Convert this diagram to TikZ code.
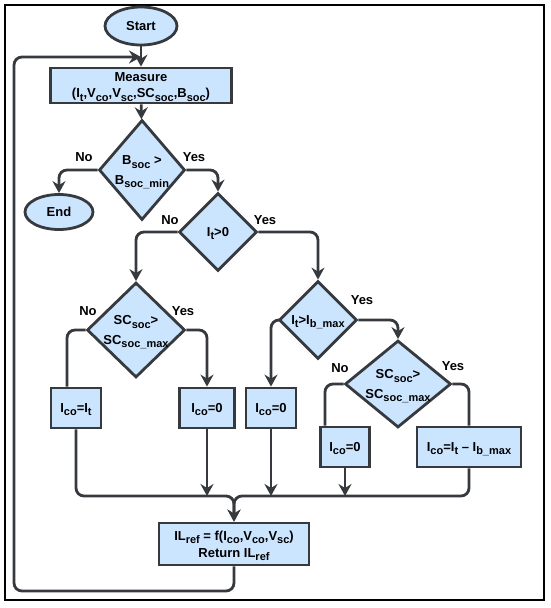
\documentclass[tikz,border=0pt]{standalone}
\usepackage{fontspec}
\setmainfont{Liberation Sans}
\usetikzlibrary{shapes.geometric,arrows.meta}
\definecolor{fc}{HTML}{CCE5FF}
\definecolor{lc}{HTML}{36393D}
\newcommand\sbx[1]{\smash{\raisebox{-3.5pt}{\fontsize{11}{12}\selectfont #1}}}
\newcommand\zw[1]{\makebox[0pt]{#1}}
\begin{document}
\begin{tikzpicture}[x=1pt,y=-1pt,
  font=\fontsize{13}{17}\selectfont\bfseries,
  box/.style={draw=lc, fill=fc, line width=2.8pt, rectangle, inner sep=0pt, align=center},
  dec/.style={draw=lc, fill=fc, line width=2.8pt, diamond, inner sep=0pt, align=center,
    font=\fontsize{13}{19.5}\selectfont\bfseries},
  oval/.style={draw=lc, fill=fc, line width=2.8pt, ellipse, inner sep=0pt},
  conn/.style={draw=lc, line width=2.8pt, rounded corners=8pt},
  arr/.style={conn, -{Stealth[length=12pt,width=13pt,inset=4pt]}},
  lbl/.style={inner sep=0pt}
]
\useasboundingbox (0,0) rectangle (550,608);
\fill[white] (0,0) rectangle (550,608);
\draw[line width=1.5pt, black] (5,5) rectangle (544,600);

\node[oval, minimum width=72pt, minimum height=38pt] (start) at (141,26) {Start};
\node[box, minimum width=181pt, minimum height=35pt, font=\fontsize{13}{16}\selectfont\bfseries] (measure) at (141,85.5) {\rule{0pt}{11pt}Measure\\(I\sbx{t},V\sbx{co},V\sbx{sc},SC\sbx{soc},B\sbx{soc})};
\node[dec, minimum width=86pt, minimum height=100pt] (bsoc) at (142,170) {\zw{B\sbx{soc} >}\\\zw{B\sbx{soc\_min}}};
\node[oval, minimum width=68pt, minimum height=35pt] (end) at (59,212) {End};
\node[dec, minimum width=78pt, minimum height=78pt] (itg) at (218,232) {\zw{I\sbx{t}>0}};
\node[dec, minimum width=98pt, minimum height=95pt] (sc1) at (136,330) {\zw{SC\sbx{soc}>}\\\zw{SC\sbx{soc\_max}}};
\node[dec, minimum width=78pt, minimum height=78pt] (ib) at (318,320) {\zw{I\sbx{t}>I\sbx{b\_max}}};
\node[dec, minimum width=106pt, minimum height=87pt] (sc2) at (398,384) {\zw{SC\sbx{soc}>}\\\zw{SC\sbx{soc\_max}}};
\node[box, minimum width=50pt, minimum height=40pt] (b1) at (76,408) {I\sbx{co}=I\sbx{t}};
\node[box, minimum width=55pt, minimum height=40pt] (b2) at (207,408) {I\sbx{co}=0};
\node[box, minimum width=50pt, minimum height=40pt] (b3) at (271,408) {I\sbx{co}=0};
\node[box, minimum width=49pt, minimum height=40pt] (b4) at (345,447) {I\sbx{co}=0};
\node[box, minimum width=104pt, minimum height=40pt] (b5) at (469,447) {I\sbx{co}=I\sbx{t} -- I\sbx{b\_max}};
\node[box, minimum width=150pt, minimum height=42pt] (fin) at (234,544) {IL\sbx{ref} = f(I\sbx{co},V\sbx{co},V\sbx{sc})\\Return IL\sbx{ref}};

\node[lbl] (l1) at (84,157) {No};
\node[lbl] (l2) at (194,157) {Yes};
\node[lbl] (l3) at (170,220) {No};
\node[lbl] (l4) at (265,220) {Yes};
\node[lbl] (l5) at (88,311) {No};
\node[lbl] (l6) at (183,311) {Yes};
\node[lbl] (l7) at (362,300) {Yes};
\node[lbl] (l8) at (340,368) {No};
\node[lbl] (l9) at (453,366) {Yes};

\coordinate (lp) at (141,57);
\coordinate (my) at (0,496);
\coordinate (mj) at (fin.north |- my);
\coordinate (lc1) at (14,591);
\coordinate (lc2) at (14,57);

\draw[arr] (start) -- (measure);
\draw[arr] (measure) -- (bsoc);
\draw[arr] (bsoc.west) -| (end.north);
\draw[arr] (bsoc.east) -| (itg.north);
\draw[arr] (itg.west) -| (sc1.north);
\draw[arr] (itg.east) -| (ib.north);
\draw[conn] (sc1.west) -| ([xshift=-9pt]b1.north);
\draw[arr] (sc1.east) -| (b2.north);
\draw[arr] (ib.west) -| (b3.north);
\draw[arr] (ib.east) -| (sc2.north);
\draw[conn] (sc2.west) -| ([xshift=-20pt]b4.north);
\draw[conn] (sc2.east) -| (b5.north);
\draw[arr] (b1.south) |- (mj) -- (fin.north);
\draw[arr] (b5.south) |- (mj) -- (fin.north);
\draw[arr] (b2.south) -- (b2.south |- my);
\draw[arr] (b3.south) -- (b3.south |- my);
\draw[arr] (b4.south) -- (b4.south |- my);
\draw[arr] (fin.south) |- (lc1) -- (lc2) -- (lp);
\end{tikzpicture}
\end{document}
